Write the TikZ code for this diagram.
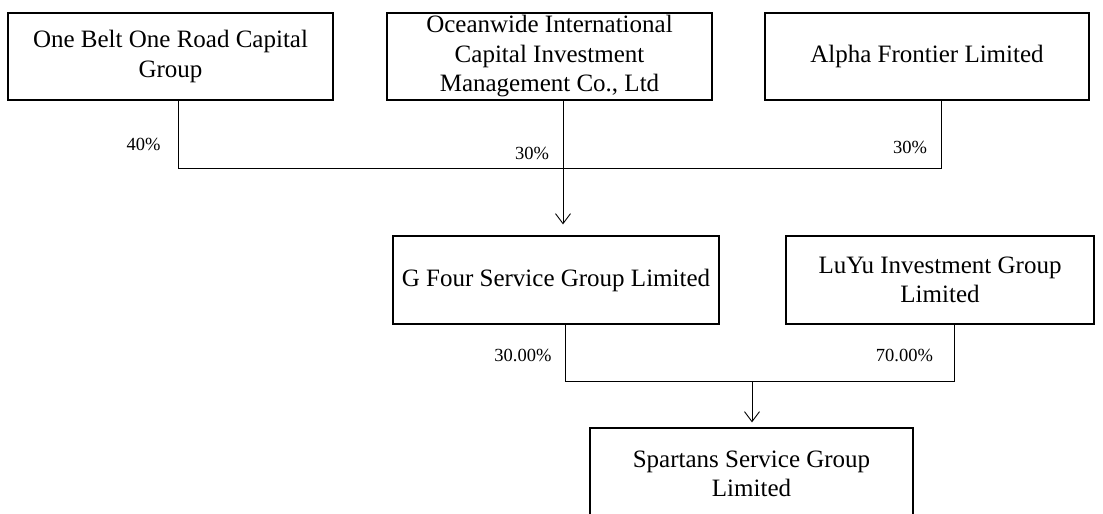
\documentclass[tikz,border=0pt]{standalone}
\usepackage{fontspec}
\setmainfont{Liberation Serif}
\usetikzlibrary{arrows.meta}
\begin{document}
\begin{tikzpicture}[x=1pt,y=-1pt,
 box/.style={draw,line width=1.3pt,inner sep=0pt,align=center,font=\fontsize{25}{29.5}\selectfont},
 conn/.style={line width=0.9pt},
 arr/.style={conn,-{Straight Barb[length=10pt,width=15pt,line width=0.9pt]}},
 pct/.style={font=\fontsize{18.5}{22}\selectfont,inner sep=0pt}]
\useasboundingbox (0,0) rectangle (1103,514);
\clip (0,0) rectangle (1103,514);
\node[box,minimum width=325pt,minimum height=87pt] (b1) at (170.5,56.5) {One Belt One Road Capital\\Group};
\node[box,minimum width=325pt,minimum height=87pt] (b2) at (549.5,56.5) {Oceanwide International\\Capital Investment\\Management Co., Ltd};
\node[box,minimum width=324pt,minimum height=87pt] (b3) at (927,56.5) {Alpha Frontier Limited};
\node[box,minimum width=326pt,minimum height=88pt] (g4) at (556,280) {G Four Service Group Limited};
\node[box,minimum width=308pt,minimum height=88pt] (l4) at (940,280) {LuYu Investment Group\\Limited};
\node[box,minimum width=323pt,minimum height=92pt] (sp) at (751.5,474) {Spartans Service Group\\Limited};
\coordinate (t1) at (178,168);
\coordinate (t2) at (563,168);
\coordinate (t3) at (941,168);
\draw[conn] (b1.south -| t1) -- (t1) -- (t3) -- (b3.south -| t3);
\draw[arr,shorten >=11pt] (b2.south -| t2) -- (g4.north -| t2);
\coordinate (u1) at (565,381);
\coordinate (u2) at (954,381);
\coordinate (u3) at (752,381);
\draw[conn] (g4.south -| u1) -- (u1) -- (u2) -- (l4.south -| u2);
\draw[arr,shorten >=5pt] (u3) -- (sp.north -| u3);
\node[pct] (p1) at (143.5,144) {40\%};
\node[pct] (p2) at (532,153) {30\%};
\node[pct] (p3) at (910,147) {30\%};
\node[pct] (p4) at (523,355) {30.00\%};
\node[pct] (p5) at (904.5,355) {70.00\%};
\end{tikzpicture}
\end{document}
